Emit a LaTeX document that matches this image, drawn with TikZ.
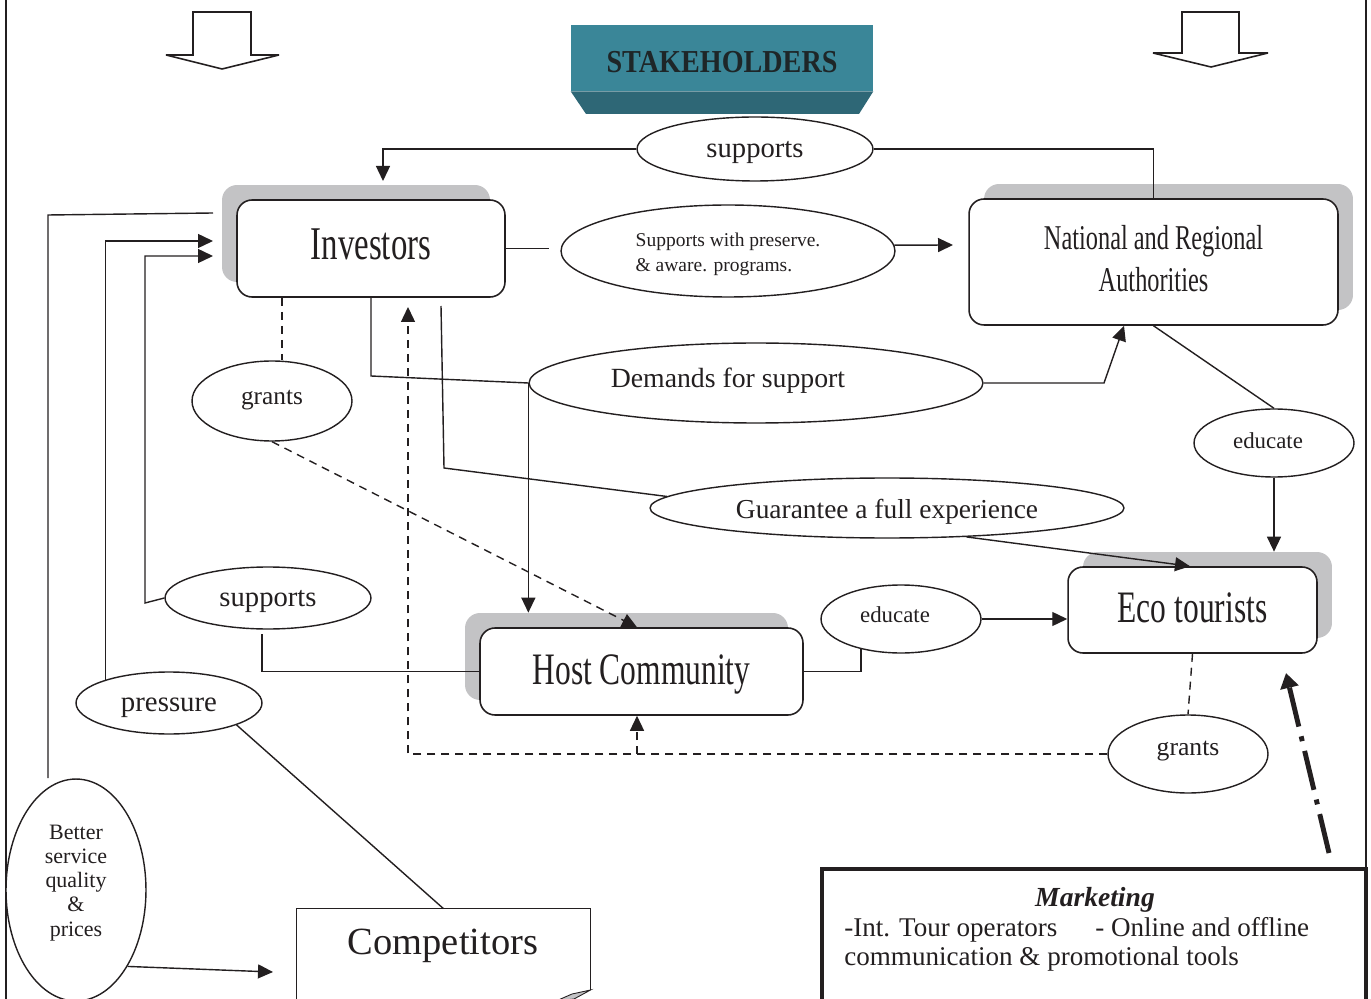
\documentclass[tikz,border=0pt]{standalone}
\usepackage{fontspec}
\setmainfont{Liberation Serif}
\newfontfamily\condfont[FakeStretch=0.7]{Liberation Serif}
\newfontfamily\stakefont[FakeStretch=0.88]{Liberation Serif}
\usetikzlibrary{shapes.geometric,arrows.meta,calc}
\definecolor{ink}{HTML}{231F20}
\definecolor{tealA}{HTML}{3A8698}
\definecolor{tealB}{HTML}{2E6776}
\definecolor{shade}{HTML}{C3C3C5}
\definecolor{staketext}{HTML}{1E2628}
\begin{document}
\begin{tikzpicture}[x=0.02cm,y=-0.02cm,
  every node/.style={text=ink},
  line/.style={draw=ink, line width=0.8pt},
  arr/.style={line, -{Triangle[length=0.3cm,width=0.28cm]}},
  dline/.style={line, dash pattern=on 0.16cm off 0.12cm},
  darr/.style={arr, dash pattern=on 0.16cm off 0.12cm},
  mkarr/.style={draw=ink, line width=2.8pt, dash pattern=on 0.8cm off 0.2cm on 0.1cm off 0.2cm, -{Triangle[length=0.3cm,width=0.36cm]}},
  boxm/.style={draw=ink, line width=0.9pt, rounded corners=0.3cm, fill=white, inner sep=0pt, font=\condfont},
  shadowbox/.style={fill=shade, rounded corners=0.3cm, inner sep=0pt},
  ell/.style={draw=ink, line width=0.8pt, ellipse, inner sep=0pt, fill=white, text depth=0pt},
  blockarrow/.style={draw=ink, line width=0.9pt, fill=white, miter limit=2}]
\useasboundingbox (0,0) rectangle (1371,999);
\clip (0,0) rectangle (1371,999);

% page borders
\draw[line, line width=0.6pt] (6,0) -- (6,999);
\draw[line, line width=0.6pt] (1366,0) -- (1366,868);

% top block arrows
\draw[blockarrow] (193,12) -- (251,12) -- (251,55) -- (279,55) -- (222,69) -- (166,55) -- (193,55) -- cycle;
\draw[blockarrow] (1182,12) -- (1239,12) -- (1239,53) -- (1268,53) -- (1211,67) -- (1153,53) -- (1182,53) -- cycle;

% stakeholders
\node[fill=tealA, minimum width=6.04cm, minimum height=1.32cm, inner sep=0pt] (stake) at (722,58) {};
\fill[tealB] (stake.south west) -- (stake.south east) -- (859,114) -- (586,114) -- cycle;
\node[font=\stakefont\bfseries\fontsize{18.2}{20}\selectfont, text=staketext] (stakeT) at (722,62) {STAKEHOLDERS};

% main boxes
\node[shadowbox, minimum width=5.36cm, minimum height=1.94cm] (invS) at (356,233.5) {};
\node[boxm, minimum width=5.36cm, minimum height=1.94cm, text height=12pt, text depth=0pt, font=\condfont\fontsize{26.7}{30}\selectfont] (inv) at (371,248.5) {Investors};

\node[shadowbox, minimum width=7.38cm, minimum height=2.52cm] (natS) at (1168.5,247) {};
\node[boxm, minimum width=7.38cm, minimum height=2.52cm] (nat) at (1153.5,262) {};
\node[align=center, inner sep=0pt, font=\condfont\fontsize{19.8}{23.9}\selectfont] (natT) at (1153.5,259) {National and Regional\\Authorities};

\node[shadowbox, minimum width=4.98cm, minimum height=1.72cm] (ecoS) at (1207.5,595) {};
\node[boxm, minimum width=4.98cm, minimum height=1.72cm, text height=14.7pt, text depth=0pt, font=\condfont\fontsize{25.6}{29}\selectfont] (eco) at (1192.5,610) {Eco tourists};

\node[shadowbox, minimum width=6.46cm, minimum height=1.74cm] (hostS) at (626.5,656.5) {};
\node[boxm, minimum width=6.46cm, minimum height=1.74cm, text height=15.3pt, text depth=0pt, font=\condfont\fontsize{25.6}{29}\selectfont] (host) at (641.5,671.5) {Host Community};

% ellipses
\node[ell, text height=9.8pt, minimum width=4.72cm, minimum height=1.28cm, font=\fontsize{16.3}{19}\selectfont] (supTop) at (755,149) {supports};
\node[ell, minimum width=6.68cm, minimum height=1.84cm] (supPres) at (728,251) {};
\node[align=left, inner sep=0pt, font=\fontsize{11.1}{14.2}\selectfont] (supPresT) at (728,254) {Supports with preserve.\\\& aware. programs.};
\node[ell, minimum width=9.08cm, minimum height=1.6cm] (demands) at (756,383) {};
\node[anchor=base, inner sep=0pt, font=\fontsize{15.8}{19}\selectfont] (demandsT) at (728,387.5) {Demands for support};
\node[ell, text height=12.3pt, minimum width=9.48cm, minimum height=1.2cm, font=\fontsize{15.6}{19}\selectfont] (guar) at (887,508) {Guarantee a full experience};
\node[ell, text height=3.8pt, minimum width=3.2cm, minimum height=1.6cm, font=\fontsize{14.4}{17}\selectfont] (grantsL) at (272,401) {grants};
\node[ell, text height=6pt, minimum width=3.2cm, minimum height=1.36cm, font=\fontsize{13}{16}\selectfont] (eduR) at (1274,443) {\hspace*{-0.24cm}educate};
\node[ell, text height=3.8pt, minimum width=3.2cm, minimum height=1.36cm, font=\fontsize{13}{16}\selectfont] (eduH) at (901,619) {\hspace*{-0.24cm}educate};
\node[ell, text height=10pt, minimum width=4.12cm, minimum height=1.24cm, font=\fontsize{16.3}{19}\selectfont] (supL) at (268,598) {supports};
\node[ell, text height=10pt, minimum width=3.72cm, minimum height=1.24cm, font=\fontsize{16.4}{19}\selectfont] (pressure) at (169,703) {pressure};
\node[ell, minimum width=2.8cm, minimum height=4.44cm] (better) at (76,890) {};
\node[align=center, font=\fontsize{12.5}{13.7}\selectfont] (betterT) at (76,883) {Better\\service\\quality\\\&\\prices};
\node[ell, text height=2.2pt, minimum width=3.2cm, minimum height=1.56cm, font=\fontsize{14.6}{17}\selectfont] (grantsR) at (1188,754) {grants};

% competitors
\node[minimum width=5.86cm, minimum height=2.04cm, inner sep=0pt] (comp) at (443.5,960) {};
\draw[line] (comp.south west) -- (comp.north west) -- (comp.north east) -- (comp.north east |- 0,990);
\filldraw[fill=shade, draw=ink, line width=0.5pt] (590.5,990) -- (572,994) -- (556,1001) -- (574,999) -- cycle;
\node[font=\fontsize{21.9}{26}\selectfont] (compT) at (443,946) {Competitors};

% marketing
\node[draw=ink, line width=2.3pt, minimum width=10.88cm, minimum height=3.02cm, inner sep=0pt] (mkt) at (1094,944.5) {};
\node[font=\bfseries\itshape\fontsize{15.7}{18}\selectfont] (mktT) at (1095,900) {Marketing};
\node[anchor=west, align=left, inner sep=0pt, font=\fontsize{15.4}{16.5}\selectfont] (mktB) at (844,944) {-Int. Tour operators\hspace{0.76cm}- Online and offline\\communication \& promotional tools};

% free-end coordinates
\coordinate (invTopIn) at (383,181);
\coordinate (invOut) at (549,248.5);
\coordinate (natIn) at (953,245);
\coordinate (invUp) at (408,307);
\coordinate (dashCorner) at (408,754);
\coordinate (invLow1) at (371,376);
\coordinate (invLow2a) at (441,306);
\coordinate (invLow2b) at (444,468);
\coordinate (demCorner) at (1104,383);
\coordinate (mkStart) at (1329,853);
\coordinate (mkEnd) at (1286,673);
\coordinate (lA1) at (48,778);
\coordinate (lA2) at (48,215);
\coordinate (lA3) at (213,213);
\coordinate (lB) at (213,241);
\coordinate (lC1) at (145,603);
\coordinate (lC2) at (145,256);
\coordinate (lC3) at (213,256);
\coordinate (lD) at (262,634);
\coordinate (compIn) at (273,972);

% connectors
\draw[arr] (supTop.west) -| (invTopIn);
\draw[line] (supTop.east) -| (nat.north);
\draw[line] (inv.east) -- (invOut);
\draw[arr] (supPres.2) -- (natIn);
\draw[dline] (282,0 |- inv.south) -- (282,0 |- grantsL.north);
\draw[darr] (grantsL.south) -- (637,0 |- host.north);
\draw[line] (371,0 |- inv.south) -- (invLow1) -- (demands.west);
\draw[arr] (demands.west) -- (demands.west |- hostS.north);
\draw[darr] (grantsR.west) -- (dashCorner) -- (invUp);
\draw[darr] (637,0 |- grantsR.west) -- (637,0 |- host.south);
\draw[line] (invLow2a) -- (invLow2b) -- (guar.177);
\draw[arr] (guar.-20) -- (1190,0 |- eco.north);
\draw[arr] (demands.east) -- (demCorner) -- (1124,0 |- nat.south);
\draw[line] (nat.south) -- (eduR.north);
\draw[arr] (eduR.south) -- (eduR.south |- ecoS.north);
\draw[line] (host.east) -| (eduH.217);
\draw[arr] (eduH.east) -- (eduH.east -| eco.west);
\draw[dline] (eco.south) -- (grantsR.north);
\draw[mkarr] (mkStart) -- (mkEnd);
\draw[line] (lA1) -- (lA2) -- (lA3);
\draw[arr] (pressure.160) |- (lB);
\draw[arr] (supL.west) -- (lC1) -- (lC2) -- (lC3);
\draw[line] (lD) |- (host.west);
\draw[line] (pressure.-18) -- (comp.north);
\draw[arr] (better.-56) -- (compIn);
\end{tikzpicture}
\end{document}
